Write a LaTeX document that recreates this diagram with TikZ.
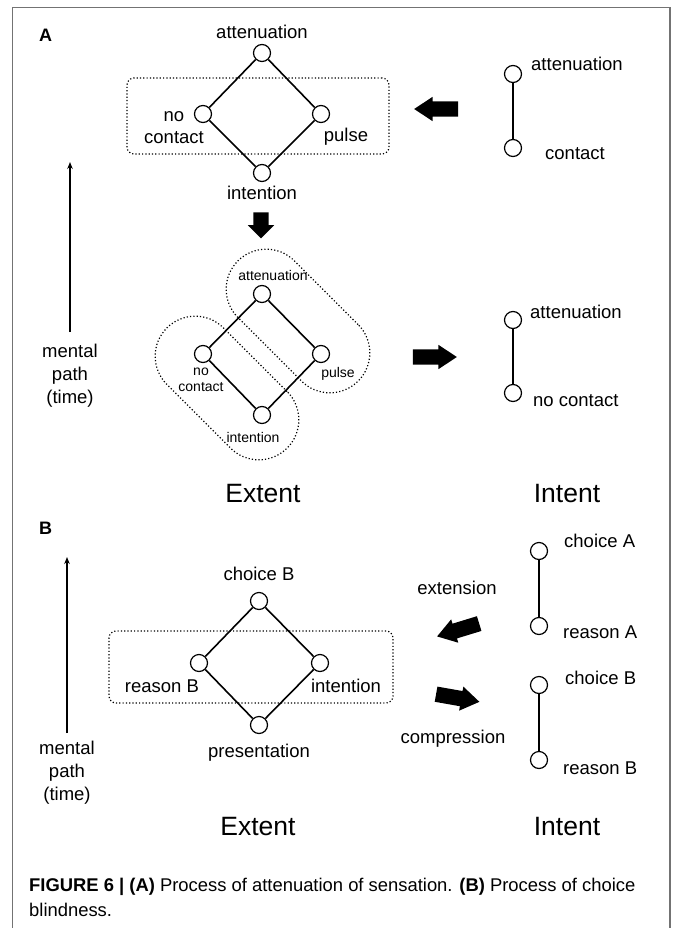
\documentclass[tikz,border=0pt]{standalone}
\usepackage{fontspec}
\setmainfont{Liberation Sans}
\usetikzlibrary{positioning,shapes.arrows,arrows.meta}

\tikzset{
    vertex/.style={circle, draw, line width=1.2pt, fill=white, minimum size=17pt, inner sep=0pt},
    lbl/.style={inner sep=0pt, font=\fontsize{18.5}{22}\selectfont},
    lblsmall/.style={inner sep=0pt, font=\fontsize{14}{16}\selectfont},
    heading/.style={inner sep=0pt, font=\fontsize{26.5}{30}\selectfont, anchor=base},
    panel/.style={inner sep=0pt, font=\fontsize{18}{20}\selectfont\bfseries, anchor=base west},
    link/.style={line width=1.6pt},
    dots/.style={draw, line width=1.2pt, dash pattern=on 1.2pt off 2.1pt},
    groupbox/.style={dots, rounded corners=7pt, inner sep=0pt},
    capsule/.style={dots, rounded corners=40pt, minimum width=170pt, minimum height=80pt, rotate=-45, inner sep=0pt},
    blockarrow/.style={single arrow, fill=black, inner xsep=0pt, inner ysep=7.5pt, minimum height=44pt,
        single arrow head extend=4.5pt, single arrow tip angle=67},
    timearrow/.style={-{Stealth[length=7pt,width=5.5pt]}, line width=1.3pt},
    figframe/.style={draw=black!55, line width=1.5pt}
}

\begin{document}
\begin{tikzpicture}[x=1pt, y=-1pt]
    \useasboundingbox (0,0) rectangle (673,928);
    \draw[figframe] (12.5,928) -- (12.5,7.5) -- (670,7.5) -- (670,928);

    % (A) upper lattice
    \node[panel] (pA) at (39,41.7) {A};
    \node[groupbox, minimum width=262pt, minimum height=76pt] (gA) at (258,116) {};
    \node[vertex] (aT) at (262,53) {};
    \node[vertex] (aL) at (203,114) {};
    \node[vertex] (aR) at (321,114) {};
    \node[vertex] (aB) at (262,173) {};
    \node[lbl] (taT) [above=5.5pt of aT] {attenuation};
    \node[lbl, align=center] (taL) at (174,128) {no\\contact};
    \node[lbl, anchor=base] (taR) at (346,142) {pulse};
    \node[lbl] (taB) [below=3.3pt of aB] {intention};
    \draw[link] (aT) -- (aR);
    \draw[link] (aR) -- (aB);
    \draw[link] (aB) -- (aL);
    \draw[link] (aL) -- (aT);

    % (A) intent before
    \node[vertex] (iA1) at (513,74) {};
    \node[vertex] (iA2) at (513,148) {};
    \draw[link] (iA1) -- (iA2);
    \node[lbl, anchor=base west] (tiA1) at (531,71) {attenuation};
    \node[lbl, anchor=base west] (tiA2) at (545,160) {contact};
    \node[blockarrow, rotate=180] (toLeftA) at (442,109) {};
    \node[blockarrow, rotate=-90, minimum height=26pt, single arrow head extend=5.5pt,
        single arrow tip angle=90] (downA) at (261,221.5) {};

    % (A) lower lattice
    \node[capsule] (capR) at (298,321) {};
    \node[capsule] (capL) at (227,388) {};
    \node[vertex] (bT) at (262,294) {};
    \node[vertex] (bL) at (203,354) {};
    \node[vertex] (bR) at (321,354) {};
    \node[vertex] (bB) at (262,415) {};
    \node[lblsmall, anchor=base] (tbT) at (273,280) {attenuation};
    \node[lblsmall, align=center] (tbL) at (201,380) {no\\contact};
    \node[lblsmall, anchor=base] (tbR) at (338,377.6) {pulse};
    \node[lblsmall, anchor=base] (tbB) at (253,442.6) {intention};
    \draw[link] (bT) -- (bR);
    \draw[link] (bR) -- (bB);
    \draw[link] (bB) -- (bL);
    \draw[link] (bL) -- (bT);

    % (A) intent after
    \node[blockarrow] (toRightA) at (429,357) {};
    \node[vertex] (iB1) at (513,320) {};
    \node[vertex] (iB2) at (513,393) {};
    \draw[link] (iB1) -- (iB2);
    \node[lbl, anchor=base west] (tiB1) at (530,318.8) {attenuation};
    \node[lbl, anchor=base west] (tiB2) at (533,406.8) {no contact};

    % (A) time axis
    \node[lbl, align=center, font=\fontsize{18.5}{23}\selectfont] (mpA) at (70,376) {mental\\path\\(time)};
    \coordinate (topA) at (70,162);
    \draw[timearrow, shorten <=12pt] (mpA) -- (topA);
    \node[heading] (extA) at (263,502) {Extent};
    \node[heading] (intA) at (567,502) {Intent};

    % (B) lattice
    \node[panel] (pB) at (39,534) {B};
    \node[groupbox, minimum width=284pt, minimum height=72pt] (gB) at (251,667) {};
    \node[vertex] (cT) at (259,601) {};
    \node[vertex] (cL) at (199,663) {};
    \node[vertex] (cR) at (320,663) {};
    \node[vertex] (cB) at (259,725) {};
    \node[lbl] (tcT) [above=11.5pt of cT] {choice B};
    \node[lbl, anchor=base] (tcL) at (162,692) {reason B};
    \node[lbl, anchor=base] (tcR) at (346,692) {intention};
    \node[lbl] (tcB) [below=9.3pt of cB] {presentation};
    \draw[link] (cT) -- (cR);
    \draw[link] (cR) -- (cB);
    \draw[link] (cB) -- (cL);
    \draw[link] (cL) -- (cT);

    % (B) intents
    \node[vertex] (jA1) at (539,551) {};
    \node[vertex] (jA2) at (539,626) {};
    \draw[link] (jA1) -- (jA2);
    \node[lbl, anchor=base west] (tjA1) at (564,547) {choice A};
    \node[lbl, anchor=base west] (tjA2) at (563,638) {reason A};
    \node[vertex] (jB1) at (539,685) {};
    \node[vertex] (jB2) at (539,760) {};
    \draw[link] (jB1) -- (jB2);
    \node[lbl, anchor=base west] (tjB1) at (565,684) {choice B};
    \node[lbl, anchor=base west] (tjB2) at (563,774) {reason B};

    \node[lbl, anchor=base] (text) at (457,594) {extension};
    \node[blockarrow, rotate=197] (ext) at (463.7,628.3) {};
    \node[blockarrow, rotate=-10] (comp) at (452,697) {};
    \node[lbl, anchor=base] (tcomp) at (453,743) {compression};

    % (B) time axis
    \node[lbl, align=center, font=\fontsize{18.5}{23}\selectfont] (mpB) at (67,773) {mental\\path\\(time)};
    \coordinate (topB) at (67,557);
    \draw[timearrow, shorten <=8pt] (mpB) -- (topB);
    \node[heading] (extB) at (258,835) {Extent};
    \node[heading] (intB) at (567,835) {Intent};

    % caption
    \node[lbl, anchor=base west, font=\fontsize{18.4}{26}\selectfont] (capA) at (29,891)
        {\textbf{FIGURE 6 | (A)} Process of attenuation of sensation. \textbf{(B)} Process of choice};
    \node[lbl, anchor=base west, font=\fontsize{18.4}{26}\selectfont] (capB) at (29,916) {blindness.};
\end{tikzpicture}
\end{document}
